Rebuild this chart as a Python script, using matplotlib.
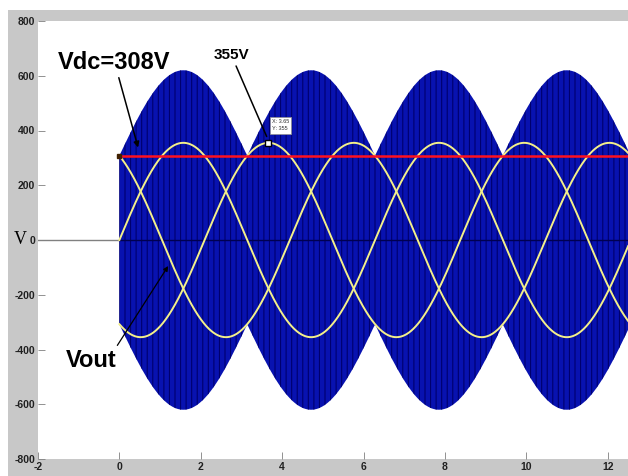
import numpy as np
import matplotlib
matplotlib.use("Agg")
import matplotlib.pyplot as plt
from matplotlib.patches import Rectangle

# valores
vdc = 308            # tensión del bus DC
v_peak = 355         # amplitud de las fases
env_peak = 620       # pico de la envolvente PWM
x_end = 12.6
tip_x, tip_y = 3.65, 355
xticks = [-2, 0, 2, 4, 6, 8, 10, 12]
yticks = [-800, -600, -400, -200, 0, 200, 400, 600, 800]
phase_shifts = [0, -2 * np.pi / 3, 2 * np.pi / 3]

plt.rcParams['axes.unicode_minus'] = False
plt.rcParams['hatch.linewidth'] = 0.8
plt.rcParams['font.family'] = ['Liberation Sans', 'DejaVu Sans']

t = np.linspace(0, x_end, 3000)
env = vdc + (env_peak - vdc) * np.abs(np.sin(t))

fig = plt.figure(figsize=(6.28, 4.76), dpi=100, facecolor='white')
fig.patches.append(Rectangle((8 / 628, 0), 1, 466 / 476, transform=fig.transFigure,
                             facecolor='#c8c8c8', edgecolor='none', zorder=-5))
ax = fig.add_axes([38 / 628, 17 / 476, 1 - 38 / 628, 438 / 476])
ax.set_zorder(1)
ax.set_facecolor('white')

# envolvente PWM
ax.fill_between(t, -env, env, facecolor='#0812b0', edgecolor='#00006e',
                hatch='|||', linewidth=0, zorder=2)
ax.axhline(0, color='#808080', linewidth=1, zorder=1)
ax.plot([0, x_end], [0, 0], color='#000050', linewidth=1, zorder=3)

for ph in phase_shifts:
    ax.plot(t, v_peak * np.sin(t + ph), color='#f4f08a', linewidth=1.4, zorder=4)

ax.plot([0, x_end], [vdc, vdc], color='#ff1020', linewidth=1.8, zorder=5)
ax.plot([0], [vdc], marker='s', markersize=3, color='#402000', zorder=6)

# datatip
ax.plot([tip_x], [tip_y], marker='s', markersize=4.5, markerfacecolor='white',
        markeredgecolor='black', markeredgewidth=1, zorder=7)
ax.text(3.75, 400, f"X: {tip_x}\nY: {tip_y}", fontsize=4, color='#303030',
        linespacing=1.6, zorder=8,
        bbox=dict(boxstyle='square,pad=0.4', facecolor='white', edgecolor='#909090', linewidth=0.5))

# anotaciones
ax.annotate("Vdc=308V", xy=(0.46, 338), xytext=(-0.12, 650), fontsize=17, fontweight='bold',
            ha='center', va='center', zorder=9,
            arrowprops=dict(arrowstyle='-|>', color='black', lw=1.1, mutation_scale=8,
                            shrinkA=1, shrinkB=0))
ax.annotate("355V", xy=(3.62, 378), xytext=(2.75, 676), fontsize=11, fontweight='bold',
            ha='center', va='center', zorder=9,
            arrowprops=dict(arrowstyle='-', color='black', lw=1.1, shrinkA=1, shrinkB=0))
ax.text(-0.7, -440, "Vout", fontsize=17, fontweight='bold', ha='center', va='center', zorder=9)
ax.annotate("", xy=(1.2, -95), xytext=(-0.05, -385), zorder=9,
            arrowprops=dict(arrowstyle='-|>', color='black', lw=0.9, mutation_scale=7,
                            shrinkA=0, shrinkB=0))

ax.set_xlim(-2, 12.5)
ax.set_ylim(-800, 800)
ax.set_xticks(xticks)
ax.set_yticks(yticks)
ax.tick_params(direction='in', length=5, width=0.6, color='#808080', labelsize=7.5,
               labelcolor='#202020', pad=2)
for lab in ax.get_xticklabels() + ax.get_yticklabels():
    lab.set_fontweight('bold')
for s in ax.spines.values():
    s.set_visible(False)

fig.text(20 / 628, 1 - 240 / 476, "V", fontsize=13, family='Liberation Serif',
         ha='center', va='center', zorder=5)

fig.savefig("out.png", dpi=100, facecolor=fig.get_facecolor())
